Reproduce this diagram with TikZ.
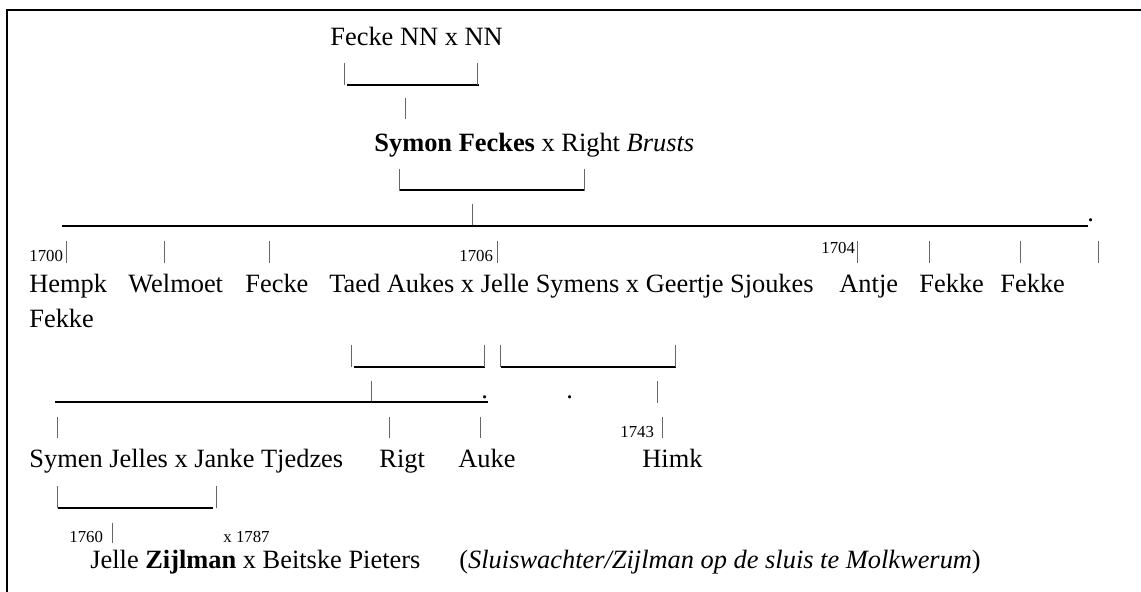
\documentclass[tikz,border=0pt]{standalone}
\usepackage{fontspec}
\setmainfont{Liberation Serif}
\begin{document}
\begin{tikzpicture}[x=0.5pt,y=-0.5pt,
  txt/.style={inner sep=0pt, anchor=base west, font=\fontsize{13.2}{15}\selectfont},
  sm/.style={inner sep=0pt, anchor=base west, font=\fontsize{8.4}{10}\selectfont},
  bar/.style={line width=0.5pt, black!60},
  uline/.style={line width=1pt, black},
  frame/.style={line width=1.3pt, black}]
\useasboundingbox (0,0) rectangle (1141,592);
% frame
\draw[frame] (1141,10) -- (7,10) -- (7,592);
% generation 0
\node[txt] (g0) at (330,46) {Fecke NN x NN};
\draw[bar] (344,63) -- (344,85);
\draw[uline] (347,85) -- (479,85);
\draw[bar] (477,63) -- (477,85);
\draw[bar] (405,98) -- (405,119);
% generation 1
\node[txt] (g1) at (374,152) {\textbf{Symon Feckes} x Right \textit{Brusts}};
\draw[bar] (399,169) -- (399,191);
\draw[uline] (400,190) -- (585,190);
\draw[bar] (584,169) -- (584,191);
\draw[bar] (472,204) -- (472,225);
\draw[uline] (62,226) -- (1088,226);
\node[txt] (d1) at (1087,222) {.};
% children bars
\foreach \x in {66,164,269,497,857,929,1020,1098} \draw[bar] (\x,241) -- (\x,263);
\node[sm] (y1700) at (29,262) {1700};
\node[sm] (y1706) at (459,262) {1706};
\node[sm] (y1704) at (821,254) {1704};
% generation 2
\node[txt] (c1) at (29,293) {Hempk};
\node[txt] (c2) at (128,293) {Welmoet};
\node[txt] (c3) at (245,293) {Fecke};
\node[txt] (c4) at (329,293) {Taed Aukes x Jelle Symens x Geertje Sjoukes};
\node[txt] (c5) at (839,293) {Antje};
\node[txt] (c6) at (1000,293) {Fekke};
\node[txt] (c6b) at (919,293) {Fekke};
\node[txt] (c8) at (29,328) {Fekke};
% marriages of Jelle
\draw[bar] (351,345) -- (351,367);
\draw[uline] (354,367) -- (485,367);
\draw[bar] (484,345) -- (484,367);
\draw[bar] (500.5,345) -- (500.5,367);
\draw[uline] (501,367) -- (676,367);
\draw[bar] (675,345) -- (675,367);
\draw[bar] (371,381) -- (371,402);
\draw[uline] (55,402) -- (488,402);
\node[txt] (d2) at (481,399) {.};
\node[txt] (d3) at (566,399) {.};
\draw[bar] (657,381) -- (657,403);
\foreach \x in {57,389,480,662} \draw[bar] (\x,417) -- (\x,438);
\node[sm] (y1743) at (620,438) {1743};
% generation 3
\node[txt] (e1) at (29,468) {Symen Jelles x Janke Tjedzes};
\node[txt] (e2) at (379,468) {Rigt};
\node[txt] (e3) at (458,468) {Auke};
\node[txt] (e4) at (642,468) {Himk};
\draw[bar] (57,486) -- (57,508);
\draw[uline] (58,508) -- (213,508);
\draw[bar] (216,486) -- (216,508);
\node[sm] (y1760) at (69,543) {1760};
\draw[bar] (112,523) -- (112,543);
\node[sm] (x1787) at (223,543) {x 1787};
% generation 4
\node[txt] (f1) at (90,569) {Jelle \textbf{Zijlman} x Beitske Pieters};
\node[txt] (f2) at (459,569) {(\textit{Sluiswachter/Zijlman op de sluis te Molkwerum})};
\end{tikzpicture}
\end{document}
